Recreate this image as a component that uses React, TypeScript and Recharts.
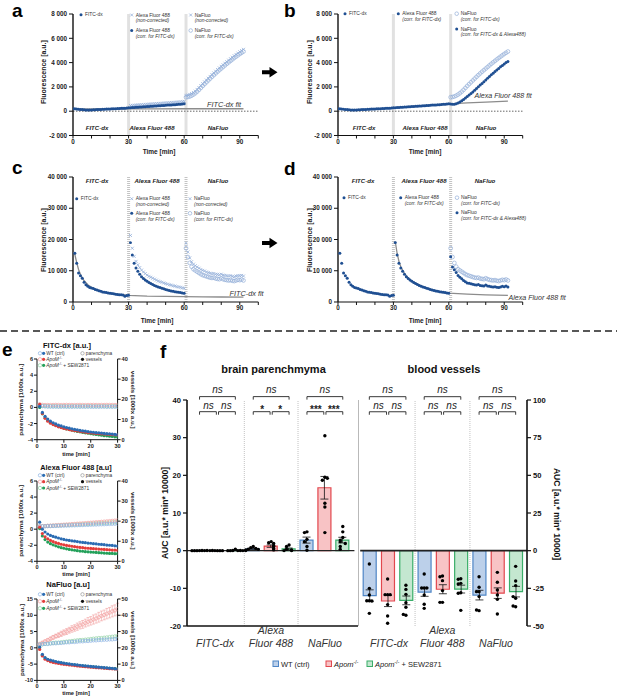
import React from 'react';
import { ComposedChart, Scatter, Bar, Cell, XAxis, YAxis, ReferenceLine, ReferenceDot, ErrorBar } from 'recharts';

const FONT = '"Liberation Sans", Arial, Helvetica, sans-serif';

// ================= DATA: panels a & b (fluorescence, a.u.) =================
const abFitcStart = 0; // t = 0..30
const abFitc = [210, 200, 185, 170, 150, 130, 115, 105, 100, 100, 105, 115, 125, 135, 145, 150, 160, 165, 175, 180, 190, 195, 205, 210, 220, 225, 235, 245, 250, 260, 275];
const abAlexaStart = 31; // t = 31..60
const abAlexaCorr = [290, 300, 310, 320, 330, 340, 350, 360, 370, 385, 395, 405, 415, 425, 435, 445, 455, 465, 475, 485, 500, 510, 520, 530, 540, 555, 565, 580, 595, 610];
const aAlexaRaw = [470, 480, 490, 500, 515, 525, 535, 545, 560, 570, 580, 590, 600, 615, 625, 635, 645, 655, 670, 680, 690, 700, 715, 725, 735, 750, 760, 775, 790, 810];
const abNafStart = 61; // t = 61..92
const abNafCorrFitc = [1150, 1170, 1210, 1280, 1370, 1480, 1610, 1760, 1920, 2080, 2230, 2380, 2530, 2680, 2830, 2970, 3110, 3250, 3380, 3510, 3640, 3770, 3900, 4020, 4140, 4260, 4380, 4490, 4600, 4710, 4810, 4910];
const aNafRaw = [1300, 1330, 1380, 1450, 1540, 1650, 1790, 1940, 2100, 2260, 2410, 2560, 2710, 2860, 3010, 3150, 3290, 3430, 3560, 3690, 3820, 3950, 4070, 4200, 4320, 4440, 4560, 4670, 4780, 4890, 4990, 5090];
const bNafCorrBoth = [600, 570, 580, 620, 680, 760, 850, 960, 1080, 1200, 1330, 1460, 1590, 1730, 1870, 2010, 2150, 2290, 2430, 2570, 2710, 2850, 2990, 3130, 3260, 3390, 3520, 3650, 3770, 3890, 4000, 4100];
const aFitcFitT = [0, 15, 30, 45, 60, 75, 92];
const aFitcFitV = [175, 180, 190, 195, 200, 200, 200];
const bAlexaFitT = [31, 40, 50, 60, 70, 80, 92];
const bAlexaFitV = [300, 390, 490, 600, 680, 750, 830];

// ================= DATA: panels c & d =================
const cdFitcStart = 1; // t = 1..30
const cdFitc = [15600, 12400, 9300, 8400, 7600, 6300, 5500, 5000, 4600, 4500, 4300, 4000, 3800, 3600, 3400, 3200, 3100, 3000, 2900, 2800, 2700, 2600, 2500, 2400, 2350, 2300, 2200, 1800, 2100, 2150];
const cdAlexaStart = 31;
const cdAlexaCorr = [19000, 15000, 12400, 10900, 9800, 8900, 8100, 7500, 7000, 6600, 6200, 5900, 5600, 5300, 5000, 4800, 4600, 4400, 4200, 4000, 3800, 3700, 3550, 3400, 3300, 3200, 3100, 3000, 2900, 2800];
const cAlexaRaw = [21300, 17200, 14600, 13000, 11900, 11000, 10200, 9600, 9100, 8600, 8200, 7900, 7600, 7300, 7000, 6700, 6500, 6300, 6100, 5900, 5700, 5500, 5400, 5200, 5100, 4900, 4800, 4700, 4500, 4400];
const cdNafStart = 61;
const cdNafCorrFitc = [17200, 14400, 12500, 11300, 10500, 10100, 9700, 9300, 8900, 8600, 8400, 8200, 8000, 7800, 7700, 7800, 7500, 7400, 7300, 7600, 7300, 7100, 7000, 6900, 7000, 6800, 6700, 6900, 7100, 7000, 7200, 6900];
const cNafRaw = [18800, 16000, 14100, 12900, 12100, 11600, 11200, 10800, 10400, 10100, 9900, 9600, 9400, 9200, 9100, 9100, 8900, 8800, 8700, 8900, 8600, 8500, 8400, 8300, 8400, 8200, 8100, 8300, 8400, 8400, 8500, 8300];
const dNafCorrBoth = [14500, 11200, 10300, 9400, 8500, 7900, 7400, 6900, 6500, 6100, 6000, 5800, 5700, 5500, 5400, 5600, 5300, 5200, 5100, 5400, 5100, 5000, 4900, 4800, 4900, 4700, 4600, 4800, 5000, 4900, 5100, 4800];
const cFitcFitT = [0.5, 1, 2, 3, 4, 5, 6, 8, 10, 12, 15, 18, 21, 25, 30, 40, 50, 60, 70, 80, 92];
const cFitcFitV = [16000, 15200, 12600, 10400, 8900, 7700, 6800, 5500, 4700, 4100, 3500, 3050, 2750, 2450, 2150, 1900, 1800, 1700, 1650, 1600, 1550];
const dAlexaFitT = [31, 32, 33, 34, 36, 38, 40, 43, 46, 50, 55, 60, 65, 70, 80, 92];
const dAlexaFitV = [19300, 15600, 13000, 11300, 9100, 7700, 6700, 5700, 4900, 4100, 3350, 2850, 2650, 2500, 2300, 2150];

const abYTicks = [-2000, 0, 2000, 4000, 6000, 8000];
const cdYTicks = [0, 10000, 20000, 30000, 40000];
const timeTicks = [0, 10, 20, 30, 40, 50, 60, 70, 80, 90, 100];
const timeLabels = [0, 30, 60, 90];

// ================= DATA: panel e (t = 1..30 min) =================
const eStart = 1;
const e1ParWT = [0.25, 0.15, 0.12, 0.1, 0.1, 0.09, 0.1, 0.08, 0.09, 0.1, 0.08, 0.09, 0.08, 0.1, 0.09, 0.08, 0.09, 0.08, 0.1, 0.09, 0.08, 0.09, 0.08, 0.09, 0.1, 0.08, 0.09, 0.08, 0.09, 0.08];
const e1ParApom = [0.4, 0.32, 0.3, 0.3, 0.29, 0.3, 0.31, 0.3, 0.29, 0.3, 0.31, 0.3, 0.3, 0.29, 0.3, 0.31, 0.3, 0.29, 0.3, 0.3, 0.31, 0.3, 0.29, 0.3, 0.3, 0.31, 0.3, 0.3, 0.29, 0.3];
const e1ParSew = [0.3, 0.2, 0.18, 0.16, 0.15, 0.16, 0.15, 0.14, 0.15, 0.16, 0.15, 0.14, 0.15, 0.15, 0.14, 0.15, 0.16, 0.15, 0.14, 0.15, 0.15, 0.14, 0.15, 0.16, 0.15, 0.14, 0.15, 0.15, 0.14, 0.15];
const e1VesWT = [16.5, 13.5, 11.6, 10.2, 9.2, 8.4, 7.8, 7.2, 6.8, 6.4, 6.0, 5.7, 5.4, 5.1, 4.9, 4.6, 4.4, 4.2, 4.0, 3.8, 3.7, 3.5, 3.4, 3.3, 3.1, 3.0, 2.9, 2.8, 2.6, 2.5];
const e1VesApom = [17.5, 13.0, 10.6, 9.2, 8.2, 7.5, 6.9, 6.4, 6.0, 5.6, 5.3, 5.0, 4.7, 4.5, 4.3, 4.1, 3.9, 3.7, 3.5, 3.4, 3.2, 3.1, 3.0, 2.9, 2.8, 2.7, 2.6, 2.5, 2.4, 2.3];
const e1VesSew = [16.0, 12.8, 10.9, 9.6, 8.6, 7.8, 7.1, 6.6, 6.1, 5.7, 5.3, 5.0, 4.7, 4.4, 4.1, 3.9, 3.6, 3.4, 3.2, 3.0, 2.8, 2.6, 2.4, 2.2, 2.0, 1.9, 1.7, 1.6, 1.4, 1.3];

const e2ParWT = [0.35, 0.36, 0.36, 0.38, 0.39, 0.4, 0.41, 0.42, 0.43, 0.45, 0.45, 0.46, 0.48, 0.48, 0.5, 0.51, 0.52, 0.54, 0.54, 0.56, 0.57, 0.58, 0.6, 0.61, 0.62, 0.64, 0.65, 0.67, 0.68, 0.7];
const e2ParApom = [0.35, 0.37, 0.39, 0.42, 0.44, 0.46, 0.49, 0.51, 0.53, 0.56, 0.58, 0.6, 0.63, 0.65, 0.68, 0.7, 0.73, 0.75, 0.78, 0.8, 0.83, 0.86, 0.88, 0.91, 0.94, 0.97, 1.0, 1.03, 1.06, 1.1];
const e2ParSew = [0.35, 0.36, 0.38, 0.4, 0.41, 0.43, 0.45, 0.46, 0.48, 0.5, 0.52, 0.53, 0.55, 0.57, 0.59, 0.6, 0.62, 0.64, 0.66, 0.68, 0.7, 0.72, 0.74, 0.76, 0.78, 0.8, 0.82, 0.85, 0.87, 0.9];
const e2VesWT = [19.5, 16.0, 14.6, 13.6, 12.9, 12.4, 12.0, 11.6, 11.2, 10.9, 10.6, 10.4, 10.2, 10.0, 9.8, 9.6, 9.4, 9.3, 9.1, 9.0, 8.8, 8.7, 8.5, 8.4, 8.3, 8.1, 8.0, 7.9, 7.7, 7.6];
const e2VesApom = [17.0, 13.8, 12.2, 11.2, 10.4, 9.8, 9.3, 8.9, 8.5, 8.2, 7.9, 7.7, 7.5, 7.3, 7.1, 6.9, 6.8, 6.6, 6.5, 6.4, 6.3, 6.2, 6.1, 6.0, 5.9, 5.8, 5.7, 5.6, 5.6, 5.5];
const e2VesSew = [16.3, 12.6, 10.8, 9.6, 8.8, 8.2, 7.7, 7.2, 6.8, 6.5, 6.2, 5.9, 5.7, 5.5, 5.3, 5.1, 5.0, 4.8, 4.7, 4.6, 4.5, 4.4, 4.3, 4.2, 4.1, 4.0, 3.9, 3.9, 3.8, 3.8];

const e3ParWT = [1.0, 1.1, 1.2, 1.2, 1.3, 1.4, 1.4, 1.5, 1.5, 1.6, 1.7, 1.7, 1.8, 1.8, 1.9, 2.0, 2.0, 2.1, 2.1, 2.2, 2.3, 2.3, 2.4, 2.4, 2.5, 2.5, 2.6, 2.6, 2.7, 2.7];
const e3ParApom = [1.2, 1.6, 2.0, 2.4, 2.8, 3.2, 3.6, 3.9, 4.3, 4.7, 5.0, 5.4, 5.8, 6.1, 6.5, 6.9, 7.2, 7.6, 8.0, 8.3, 8.7, 9.0, 9.4, 9.8, 10.1, 10.5, 10.8, 11.2, 11.5, 11.9];
const e3ParApomErr = [0.2, 0.3, 0.4, 0.4, 0.5, 0.6, 0.6, 0.7, 0.8, 0.8, 0.9, 0.9, 1.0, 1.0, 1.1, 1.1, 1.2, 1.2, 1.3, 1.3, 1.4, 1.4, 1.5, 1.5, 1.5, 1.6, 1.6, 1.7, 1.7, 1.8];
const e3ParSew = [1.0, 1.1, 1.2, 1.3, 1.4, 1.5, 1.6, 1.6, 1.7, 1.8, 1.9, 2.0, 2.1, 2.2, 2.3, 2.4, 2.4, 2.5, 2.6, 2.7, 2.8, 2.9, 3.0, 3.0, 3.1, 3.2, 3.3, 3.4, 3.5, 3.6];
const e3VesWT = [20.5, 16.0, 14.0, 13.0, 12.5, 12.0, 11.6, 11.2, 10.9, 10.6, 10.3, 10.1, 9.9, 9.7, 9.5, 9.3, 9.1, 8.9, 8.8, 8.6, 8.4, 8.3, 8.1, 8.0, 7.8, 7.7, 7.5, 7.4, 7.2, 7.0];
const e3VesApom = [19.0, 15.0, 13.0, 12.2, 11.5, 11.0, 10.7, 10.4, 10.1, 9.9, 9.7, 9.5, 9.3, 9.1, 8.9, 8.7, 8.6, 8.4, 8.3, 8.1, 8.0, 7.8, 7.7, 7.6, 7.5, 7.3, 7.2, 7.1, 7.0, 6.8];
const e3VesSew = [20.0, 15.5, 13.7, 12.8, 12.2, 11.7, 11.3, 11.0, 10.7, 10.4, 10.1, 9.9, 9.7, 9.5, 9.3, 9.1, 8.9, 8.8, 8.6, 8.5, 8.3, 8.2, 8.0, 7.9, 7.7, 7.6, 7.4, 7.3, 7.2, 7.1];

// ================= DATA: panel f (AUC, a.u.*min*10000) =================
const fCats = ['FITC-dx', 'Alexa Fluor 488', 'NaFluo'];
const fGroups = ['WT (ctrl)', 'Apom', 'Apom + SEW2871'];
// brain parenchyma (left axis); order: FITC WT, Apom, SEW, Alexa WT, Apom, SEW, NaFluo WT, Apom, SEW
const parMean = [0.03, 0.02, 0.06, 0.5, 1.2, 0.45, 2.8, 16.7, 2.8];
const parSem = [0.01, 0.01, 0.05, 0.15, 0.33, 0.25, 0.8, 3.0, 0.75];
const parDots = [
  [0.02, 0.01, 0.03, 0.0, 0.02, 0.01, 0.04],
  [0.01, 0.02, 0.0, 0.03, 0.01, 0.02],
  [0.4, 0.05, 0.02, 0.01, 0.03, 0.0, 0.02],
  [1.1, 0.8, 0.6, 0.4, 0.35, 0.2, 0.05],
  [2.4, 2.1, 1.9, 1.3, 1.1, 0.6, 0.2],
  [1.5, 1.1, 0.35, 0.2, 0.05, 0.02],
  [5.0, 4.8, 3.0, 2.4, 1.1, 0.1],
  [30.5, 19.5, 18.7, 19.2, 12.6, 11.6, 4.8],
  [6.4, 5.0, 3.5, 2.8, 2.4, 1.9, 1.1, 0.35],
];
// blood vessels (right axis)
const vesMean = [-29.9, -33.4, -33.0, -27.5, -25.6, -25.5, -29.5, -28.2, -27.2];
const vesSem = [3.9, 3.7, 2.9, 2.8, 3.0, 2.6, 3.2, 3.5, 3.5];
const vesDots = [
  [-8.8, -25, -29.4, -33.2, -33.2, -33.4, -41.6],
  [-18.8, -29.2, -29.2, -29.2, -35.8, -43.4, -48.2],
  [-23, -25.7, -29, -34.5, -37.6, -42.9, -42.3],
  [-15.5, -24.8, -24.8, -24.8, -29.4, -35.6, -38.3],
  [-16.8, -17.3, -19.9, -26.5, -34.3, -34.3],
  [-18.6, -19, -21.7, -22.1, -27.9, -28.3, -39.6],
  [-17.3, -24.3, -27.2, -27.2, -30.5, -39.8, -39.4],
  [-14.4, -21, -26.1, -29.4, -32.3, -42],
  [-10.4, -20.1, -23.2, -31.6, -30.5, -37.2, -36.7],
];
const parSig = [['ns', 'ns', 'ns'], ['ns', '*', '*'], ['ns', '***', '***']];
const vesSig = [['ns', 'ns', 'ns'], ['ns', 'ns', 'ns'], ['ns', 'ns', 'ns']];
const parTicks = [-20, -10, 0, 10, 20, 30, 40];
const vesTicks = [-50, -25, 0, 25, 50, 75, 100];

// ================= helpers =================
type Pt = { t: number; v: number; e?: number };
const seq = (t0: number, vals: number[], errs?: number[]): Pt[] => vals.map((v, i) => ({ t: t0 + i, v, e: errs ? errs[i] : undefined }));
const pairs = (ts: number[], vs: number[]): Pt[] => ts.map((t, i) => ({ t, v: vs[i] }));

const NAVY = '#1f4f92';
const LIGHT = '#93afd9';
const FITGREY = '#8c8c8c';
const BAR_FILL = ['#bcd0ea', '#f8c3c5', '#c4e7d0'];
const BAR_STROKE = ['#4f86c6', '#e2474e', '#3aae69'];
const E_RING = ['#8db3e2', '#f2a0a0', '#93d3a6'];
const E_DOT = ['#2b6cb3', '#e43d3a', '#23a05a'];

const NBSP = '\u00a0';
const fmtK = (v: number) => {
  const a = Math.abs(v);
  const s = a >= 1000 ? `${Math.floor(a / 1000)}${NBSP}${String(a % 1000).padStart(3, '0')}` : String(a);
  return (v < 0 ? '-' : '') + s;
};

const dotShape = (r: number, fill: string) => (p: any) => <circle cx={p.cx} cy={p.cy} r={r} fill={fill} />;
const ringShape = (r: number, stroke: string) => (p: any) => <circle cx={p.cx} cy={p.cy} r={r} fill="#fff" fillOpacity={0} stroke={stroke} strokeWidth={0.7} />;
const crossShape = (s: number, stroke: string) => (p: any) => (
  <path d={`M${p.cx - s},${p.cy - s}L${p.cx + s},${p.cy + s}M${p.cx - s},${p.cy + s}L${p.cx + s},${p.cy - s}`} stroke={stroke} strokeWidth={0.8} />
);
const noShape = () => <g />;

const SHAPES: Record<string, any> = {
  dot: dotShape(1.5, NAVY),
  ring: ringShape(1.9, LIGHT),
  cross: crossShape(1.5, LIGHT),
  fit: noShape,
};

const tickSmall = { fontSize: 6.3, fontWeight: 700, fill: '#222', fontFamily: FONT };

type Ser = { data: Pt[]; kind: 'dot' | 'ring' | 'cross' | 'fit' };

function TimePanel({ rect, yDomain, yTicks, series }: { rect: number[]; yDomain: [number, number]; yTicks: number[]; series: Ser[] }) {
  const [x0, y0, x1, y1] = rect;
  const yw = 42, mt = 10, mr = 8, xh = 16;
  return (
    <div style={{ position: 'absolute', left: x0 - yw, top: y0 - mt }}>
      <ComposedChart width={yw + x1 - x0 + mr} height={mt + y1 - y0 + xh} margin={{ top: mt, right: mr, bottom: 0, left: 0 }}>
        <XAxis type="number" dataKey="t" domain={[0, 100]} ticks={timeTicks} interval={0} allowDataOverflow
          tickFormatter={(v: number) => (timeLabels.includes(v) ? String(v) : '')}
          height={xh} tickSize={3} tickMargin={1} tick={tickSmall}
          axisLine={{ stroke: '#111', strokeWidth: 1.2 }} tickLine={{ stroke: '#111' }} />
        <YAxis type="number" domain={yDomain} ticks={yTicks} interval={0} allowDataOverflow width={yw}
          tickSize={4} tickMargin={2} tickFormatter={fmtK} tick={tickSmall}
          axisLine={{ stroke: '#111', strokeWidth: 1.4 }} tickLine={{ stroke: '#111' }} />
        <ReferenceLine x={30} stroke="#c4c4c4" strokeWidth={3} strokeDasharray="1 1" />
        <ReferenceLine x={61} stroke="#c4c4c4" strokeWidth={3} strokeDasharray="1 1" />
        {yDomain[0] < 0 && <ReferenceLine y={0} stroke="#666" strokeDasharray="1.5 1.5" />}
        {series.map((s, i) => (
          <Scatter key={i} data={s.data} dataKey="v" isAnimationActive={false} shape={SHAPES[s.kind]}
            line={s.kind === 'fit' ? { stroke: FITGREY, strokeWidth: 1.3 } : false} />
        ))}
      </ComposedChart>
    </div>
  );
}

type ESer = { data: Pt[]; axis: 'p' | 'v'; kind: 'ring' | 'dot'; color: string; err?: boolean };

function EPanel({ rect, pDomain, pTicks, vDomain, vTicks, series }: { rect: number[]; pDomain: [number, number]; pTicks: number[]; vDomain: [number, number]; vTicks: number[]; series: ESer[] }) {
  const [x0, y0, x1, y1] = rect;
  const yl = 30, yr = 24, mt = 8, xh = 12;
  const tk = { fontSize: 5.6, fontWeight: 700, fill: '#222', fontFamily: FONT };
  return (
    <div style={{ position: 'absolute', left: x0 - yl, top: y0 - mt }}>
      <ComposedChart width={yl + x1 - x0 + yr} height={mt + y1 - y0 + xh} margin={{ top: mt, right: 0, bottom: 0, left: 0 }}>
        <XAxis type="number" dataKey="t" domain={[0, 30]} ticks={[0, 10, 20, 30]} interval={0} allowDataOverflow height={xh}
          tickSize={3} tickMargin={1} tick={tk} axisLine={{ stroke: '#111', strokeWidth: 1 }} tickLine={{ stroke: '#111' }} />
        <YAxis yAxisId="p" orientation="left" type="number" domain={pDomain} ticks={pTicks} interval={0} allowDataOverflow width={yl}
          tickSize={3} tickMargin={1} tick={tk} axisLine={{ stroke: '#111', strokeWidth: 1 }} tickLine={{ stroke: '#111' }} />
        <YAxis yAxisId="v" orientation="right" type="number" domain={vDomain} ticks={vTicks} interval={0} allowDataOverflow width={yr}
          tickSize={3} tickMargin={1} tick={tk} axisLine={{ stroke: '#111', strokeWidth: 1 }} tickLine={{ stroke: '#111' }} />
        {series.map((s, i) => (
          <Scatter key={i} yAxisId={s.axis} data={s.data} dataKey="v" isAnimationActive={false}
            shape={s.kind === 'ring' ? ringShape(1.7, s.color) : dotShape(1.6, s.color)}>
            {s.err ? <ErrorBar dataKey="e" direction="y" width={1.5} stroke={s.color} strokeWidth={0.6} /> : null}
          </Scatter>
        ))}
      </ComposedChart>
    </div>
  );
}

function swarm(groups: number[][], span: number, step: number) {
  const out: { x: number; v: number }[] = [];
  groups.forEach((vals, g) => {
    const placed: number[] = [];
    vals.forEach((v) => {
      const n = placed.filter((p) => Math.abs(p - v) < span).length;
      const k = n === 0 ? 0 : n % 2 === 1 ? -(n + 1) / 2 : n / 2;
      placed.push(v);
      out.push({ x: g + 0.5 + k * step, v });
    });
  });
  return out;
}

type Lv = { up: number; low: number; tick: number; upTxt: number; lowTxt: number; starDrop: number };

function BarHalf({ rect, side, xDomain, yDomain, yTicks, means, sems, dots, sig, lv, span, zeroSeg }: {
  rect: number[]; side: 'left' | 'right'; xDomain: [number, number]; yDomain: [number, number]; yTicks: number[];
  means: number[]; sems: number[]; dots: number[][]; sig: string[][]; lv: Lv; span: number; zeroSeg: [number, number];
}) {
  const [x0, y0, x1, y1] = rect;
  const yw = 28, mt = 30, mb = 8;
  const xh = side === 'left' ? 1 : 0;
  const id = side === 'left' ? 'l' : 'r';
  const barData = means.map((m, i) => ({ x: i + 0.5, m, e: sems[i] }));
  const dotData = swarm(dots, span, 0.14);
  const brk: any[] = [];
  const labels: any[] = [];
  [0, 1, 2].forEach((g) => {
    const c0 = 3 * g + 0.5, c1 = 3 * g + 1.5, c2 = 3 * g + 2.5;
    const spans: [number, number, number][] = [[c0, c2, lv.up], [c0, c1 - 0.06, lv.low], [c1 + 0.06, c2, lv.low]];
    spans.forEach(([a, b, y], j) => {
      brk.push(<ReferenceLine key={`h${g}${j}`} yAxisId={id} ifOverflow="visible" stroke="#222" strokeWidth={0.9} segment={[{ x: a, y }, { x: b, y }]} />);
      brk.push(<ReferenceLine key={`a${g}${j}`} yAxisId={id} ifOverflow="visible" stroke="#222" strokeWidth={0.9} segment={[{ x: a, y }, { x: a, y: y - lv.tick }]} />);
      brk.push(<ReferenceLine key={`b${g}${j}`} yAxisId={id} ifOverflow="visible" stroke="#222" strokeWidth={0.9} segment={[{ x: b, y }, { x: b, y: y - lv.tick }]} />);
    });
    const pos: [number, number][] = [[c1, lv.upTxt], [(c0 + c1) / 2, lv.lowTxt], [(c1 + c2) / 2, lv.lowTxt]];
    pos.forEach(([x, y], j) => {
      const s = sig[g][j];
      const star = s.includes('*');
      labels.push(
        <ReferenceDot key={`t${g}${j}`} yAxisId={id} x={x} y={star ? y - lv.starDrop : y} r={0} fill="none" stroke="none" ifOverflow="visible"
          label={{ value: s, position: 'center', fontSize: 10, fontStyle: star ? 'normal' : 'italic', fontWeight: star ? 700 : 400, fill: '#222', fontFamily: FONT }} />
      );
    });
  });
  const tk = { fontSize: 7.6, fontWeight: 700, fill: '#111', fontFamily: FONT };
  return (
    <div style={{ position: 'absolute', left: side === 'left' ? x0 - yw : x0, top: y0 - mt }}>
      <ComposedChart width={x1 - x0 + yw} height={mt + y1 - y0 + xh + mb} data={barData} margin={{ top: mt, right: 0, bottom: mb, left: 0 }}>
        <XAxis type="number" dataKey="x" domain={xDomain} allowDataOverflow hide={side !== 'left'} height={xh}
          tick={false} tickLine={false} axisLine={{ stroke: '#111', strokeWidth: 1.3 }} />
        <XAxis xAxisId="d" type="number" dataKey="x" domain={xDomain} allowDataOverflow hide />
        <YAxis yAxisId={id} orientation={side} type="number" domain={yDomain} ticks={yTicks} interval={0} allowDataOverflow width={yw}
          tickSize={4} tickMargin={2} tick={tk} axisLine={{ stroke: '#111', strokeWidth: 1.6 }} tickLine={{ stroke: '#111', strokeWidth: 1.2 }} />
        <ReferenceLine yAxisId={id} x={3} stroke="#c2c2c2" strokeDasharray="1 1" />
        <ReferenceLine yAxisId={id} x={6} stroke="#c2c2c2" strokeDasharray="1 1" />
        {side === 'right' && <ReferenceLine yAxisId={id} x={xDomain[0]} stroke="#8a8a8a" strokeWidth={1.2} ifOverflow="visible" />}
        <ReferenceLine yAxisId={id} ifOverflow="visible" stroke="#222" strokeWidth={side === 'left' ? 1.1 : 1.6}
          segment={[{ x: zeroSeg[0], y: 0 }, { x: zeroSeg[1], y: 0 }]} />
        <Bar yAxisId={id} dataKey="m" barSize={13} isAnimationActive={false}>
          {barData.map((d, i) => (
            <Cell key={i} fill={BAR_FILL[i % 3]} stroke={BAR_STROKE[i % 3]} strokeWidth={1.2} />
          ))}
          <ErrorBar dataKey="e" direction="y" width={4} stroke="#111" strokeWidth={0.8} />
        </Bar>
        <Scatter xAxisId="d" yAxisId={id} data={dotData} dataKey="v" isAnimationActive={false} shape={dotShape(1.7, '#000')} />
        {brk}
        {labels}
      </ComposedChart>
    </div>
  );
}

// ================= overlay helpers =================
const Tx = ({ x, y, s = 6, b = false, it = false, a = 'start', fill = '#222', rot = 0, children }: any) => (
  <text x={x} y={y} fontSize={s} fontWeight={b ? 700 : 400} fontStyle={it ? 'italic' : 'normal'} textAnchor={a} fill={fill}
    fontFamily={FONT} transform={rot ? `rotate(${rot} ${x} ${y})` : undefined} dominantBaseline={rot ? 'central' : undefined}>
    {children}
  </text>
);

function Marker({ kind, x, y }: { kind: string; x: number; y: number }) {
  if (kind === 'dot') return <circle cx={x} cy={y} r={1.5} fill={NAVY} />;
  if (kind === 'ring') return <circle cx={x} cy={y} r={1.8} fill="none" stroke={LIGHT} strokeWidth={0.7} />;
  return <path d={`M${x - 1.4},${y - 1.4}L${x + 1.4},${y + 1.4}M${x - 1.4},${y + 1.4}L${x + 1.4},${y - 1.4}`} stroke={LIGHT} strokeWidth={0.8} />;
}

function LegItem({ x, y, kind, l1, l2 }: { x: number; y: number; kind: string; l1: string; l2?: string }) {
  return (
    <g>
      <Marker kind={kind} x={x} y={y} />
      <Tx x={x + 4} y={y + 1.7} s={4.9} fill="#333">{l1}</Tx>
      {l2 && <Tx x={x + 4} y={y + 7.4} s={4.9} it fill="#333">{l2}</Tx>}
    </g>
  );
}

function SectionLabels({ y, xs }: { y: number; xs: number[] }) {
  return (
    <g>
      {fCats.map((c, i) => (
        <Tx key={i} x={xs[i]} y={y} s={6.1} b it a="middle" fill="#222">{c}</Tx>
      ))}
    </g>
  );
}

function ApoM({ sew, s }: { sew?: boolean; s: number }) {
  return (
    <>
      <tspan fontStyle="italic">ApoM</tspan>
      <tspan fontSize={s * 0.7} dy={-s * 0.4}>-/-</tspan>
      {sew ? <tspan dy={s * 0.4}> + SEW2871</tspan> : null}
    </>
  );
}

function ELegend({ rows, col2 }: { rows: number[]; col2: number[] }) {
  const s = 4.8;
  return (
    <g>
      {rows.map((y, i) => (
        <g key={i}>
          <circle cx={40} cy={y} r={1.7} fill="none" stroke={E_RING[i]} strokeWidth={0.7} />
          <circle cx={43.6} cy={y} r={1.6} fill={E_DOT[i]} />
          <text x={46.3} y={y + 1.7} fontSize={s} fill="#333" fontFamily={FONT}>
            {i === 0 ? fGroups[0] : <ApoM sew={i === 2} s={s} />}
          </text>
        </g>
      ))}
      <circle cx={82.5} cy={col2[0]} r={1.7} fill="none" stroke="#999" strokeWidth={0.7} />
      <Tx x={85.8} y={col2[0] + 1.7} s={s} fill="#333">parenchyma</Tx>
      <circle cx={82.5} cy={col2[1]} r={1.6} fill="#111" />
      <Tx x={85.8} y={col2[1] + 1.7} s={s} fill="#333">vessels</Tx>
    </g>
  );
}

function EAxisTitles({ cy, tBase }: { cy: number; tBase: number }) {
  return (
    <g>
      <Tx x={21} y={cy} s={6.2} b a="middle" rot={-90}>parenchyma [1000x a.u.]</Tx>
      <Tx x={133.5} y={cy} s={6.2} b a="middle" rot={90}>vessels [1000x a.u.]</Tx>
      <Tx x={76} y={tBase} s={5.8} b a="middle">time [min]</Tx>
    </g>
  );
}

// ================= App =================
export default function App() {
  const aSeries: Ser[] = [
    { data: pairs(aFitcFitT, aFitcFitV), kind: 'fit' },
    { data: seq(abFitcStart, abFitc), kind: 'dot' },
    { data: seq(abAlexaStart, aAlexaRaw), kind: 'cross' },
    { data: seq(abAlexaStart, abAlexaCorr), kind: 'dot' },
    { data: seq(abNafStart, aNafRaw), kind: 'cross' },
    { data: seq(abNafStart, abNafCorrFitc), kind: 'ring' },
  ];
  const bSeries: Ser[] = [
    { data: pairs(bAlexaFitT, bAlexaFitV), kind: 'fit' },
    { data: seq(abFitcStart, abFitc), kind: 'dot' },
    { data: seq(abAlexaStart, abAlexaCorr), kind: 'dot' },
    { data: seq(abNafStart, abNafCorrFitc), kind: 'ring' },
    { data: seq(abNafStart, bNafCorrBoth), kind: 'dot' },
  ];
  const cSeries: Ser[] = [
    { data: pairs(cFitcFitT, cFitcFitV), kind: 'fit' },
    { data: seq(cdFitcStart, cdFitc), kind: 'dot' },
    { data: seq(cdAlexaStart, cAlexaRaw), kind: 'cross' },
    { data: seq(cdAlexaStart, cdAlexaCorr), kind: 'dot' },
    { data: seq(cdNafStart, cNafRaw), kind: 'cross' },
    { data: seq(cdNafStart, cdNafCorrFitc), kind: 'ring' },
  ];
  const dSeries: Ser[] = [
    { data: pairs(dAlexaFitT, dAlexaFitV), kind: 'fit' },
    { data: seq(cdFitcStart, cdFitc), kind: 'dot' },
    { data: seq(cdAlexaStart, cdAlexaCorr), kind: 'dot' },
    { data: seq(cdNafStart, cdNafCorrFitc), kind: 'ring' },
    { data: seq(cdNafStart, dNafCorrBoth), kind: 'dot' },
  ];
  const eSet = (par: number[][], ves: number[][], errIdx?: number, errs?: number[]): ESer[] => [
    ...[2, 1, 0].map((g) => ({ data: seq(eStart, par[g], g === errIdx ? errs : undefined), axis: 'p' as const, kind: 'ring' as const, color: E_RING[g], err: g === errIdx })),
    ...[2, 1, 0].map((g) => ({ data: seq(eStart, ves[g]), axis: 'v' as const, kind: 'dot' as const, color: E_DOT[g] })),
  ];

  const parLv: Lv = { up: 40.9, low: 36.9, tick: 0.8, upTxt: 42.8, lowTxt: 38.6, starDrop: 1.0 };
  const vesLv: Lv = { up: 102.2, low: 92.2, tick: 2.0, upTxt: 106.8, lowTxt: 96.4, starDrop: 2.5 };

  return (
    <div style={{ position: 'absolute', left: 0, top: 0, width: 617, height: 696, background: '#fff', overflow: 'hidden', fontFamily: FONT }}>
      <TimePanel rect={[72.7, 14, 258, 135.5]} yDomain={[-2000, 8000]} yTicks={abYTicks} series={aSeries} />
      <TimePanel rect={[338.3, 13.5, 523, 135]} yDomain={[-2000, 8000]} yTicks={abYTicks} series={bSeries} />
      <TimePanel rect={[72.7, 177, 258, 302]} yDomain={[0, 40000]} yTicks={cdYTicks} series={cSeries} />
      <TimePanel rect={[338.3, 177, 523, 302]} yDomain={[0, 40000]} yTicks={cdYTicks} series={dSeries} />

      <EPanel rect={[36.7, 359.3, 117.3, 440]} pDomain={[-4, 6]} pTicks={[-4, -2, 0, 2, 4, 6]} vDomain={[0, 40]} vTicks={[0, 10, 20, 30, 40]}
        series={eSet([e1ParWT, e1ParApom, e1ParSew], [e1VesWT, e1VesApom, e1VesSew])} />
      <EPanel rect={[36.7, 480.7, 117.3, 561]} pDomain={[-4, 6]} pTicks={[-4, -2, 0, 2, 4, 6]} vDomain={[0, 40]} vTicks={[0, 10, 20, 30, 40]}
        series={eSet([e2ParWT, e2ParApom, e2ParSew], [e2VesWT, e2VesApom, e2VesSew])} />
      <EPanel rect={[36.7, 599.3, 117.3, 680.7]} pDomain={[-10, 15]} pTicks={[-10, -5, 0, 5, 10, 15]} vDomain={[0, 50]} vTicks={[0, 10, 20, 30, 40, 50]}
        series={eSet([e3ParWT, e3ParApom, e3ParSew], [e3VesWT, e3VesApom, e3VesSew], 1, e3ParApomErr)} />

      <BarHalf rect={[186.7, 400, 357.7, 626]} side="left" xDomain={[-0.2, 9.35]} yDomain={[-20, 40]} yTicks={parTicks}
        means={parMean} sems={parSem} dots={parDots} sig={parSig} lv={parLv} span={1.0} zeroSeg={[-0.2, 9.15]} />
      <BarHalf rect={[357.7, 400, 526.7, 626]} side="right" xDomain={[-0.12, 9.12]} yDomain={[-50, 100]} yTicks={vesTicks}
        means={vesMean} sems={vesSem} dots={vesDots} sig={vesSig} lv={vesLv} span={2.5} zeroSeg={[0.0, 9.12]} />

      <svg width={617} height={696} style={{ position: 'absolute', left: 0, top: 0, pointerEvents: 'none' }}>
        {/* panel letters */}
        <Tx x={12} y={17} s={19} b fill="#000">a</Tx>
        <Tx x={284} y={17} s={19} b fill="#000">b</Tx>
        <Tx x={12} y={174} s={19} b fill="#000">c</Tx>
        <Tx x={284} y={175} s={19} b fill="#000">d</Tx>
        <Tx x={2} y={356} s={19} b fill="#000">e</Tx>
        <Tx x={160} y={358} s={19} b fill="#000">f</Tx>

        {/* arrows */}
        <path d="M262,70.3L269.5,70.3L269.5,67L277.5,72.3L269.5,77.6L269.5,74.3L262,74.3Z" fill="#000" />
        <path d="M262,241L269.5,241L269.5,237.7L277.5,243L269.5,248.3L269.5,245L262,245Z" fill="#000" />

        {/* separator */}
        <line x1={0} y1={331} x2={617} y2={331} stroke="#222" strokeWidth={1.4} strokeDasharray="7 4" />

        {/* panel a */}
        <Tx x={43} y={72} s={7} b a="middle" rot={-90}>Fluorescence [a.u.]</Tx>
        <Tx x={159} y={154} s={6.5} b a="middle">Time [min]</Tx>
        <LegItem x={81} y={14.7} kind="dot" l1="FITC-dx" />
        <LegItem x={131.7} y={15} kind="cross" l1="Alexa Fluor 488" l2="(non-corrected)" />
        <LegItem x={131.7} y={30.5} kind="dot" l1="Alexa Fluor 488" l2="(corr. for FITC-dx)" />
        <LegItem x={190.7} y={15} kind="cross" l1="NaFluo" l2="(non-corrected)" />
        <LegItem x={190.7} y={30.5} kind="ring" l1="NaFluo" l2="(corr. for FITC-dx)" />
        <SectionLabels y={130} xs={[97, 152, 218]} />
        <Tx x={207} y={107} s={7.3} it fill="#333">FITC-dx fit</Tx>

        {/* panel b */}
        <Tx x={309.5} y={72} s={7} b a="middle" rot={-90}>Fluorescence [a.u.]</Tx>
        <Tx x={425} y={154} s={6.5} b a="middle">Time [min]</Tx>
        <LegItem x={345} y={13.7} kind="dot" l1="FITC-dx" />
        <LegItem x={398.3} y={13.7} kind="dot" l1="Alexa Fluor 488" l2="(corr. for FITC-dx)" />
        <LegItem x={456.7} y={13.7} kind="ring" l1="NaFluo" l2="(corr. for FITC-dx)" />
        <LegItem x={456.7} y={29} kind="dot" l1="NaFluo" l2="(corr. for FITC-dx & Alexa488)" />
        <SectionLabels y={130} xs={[364, 425, 486]} />
        <Tx x={474.5} y={98} s={7.1} it fill="#333">Alexa Fluor 488 fit</Tx>

        {/* panel c */}
        <Tx x={43} y={240} s={7} b a="middle" rot={-90}>Fluorescence [a.u.]</Tx>
        <Tx x={157} y={322.5} s={6.5} b a="middle">Time [min]</Tx>
        <LegItem x={76.7} y={198.7} kind="dot" l1="FITC-dx" />
        <LegItem x={131.7} y={198.7} kind="cross" l1="Alexa Fluor 488" l2="(non-corrected)" />
        <LegItem x={131.7} y={213.3} kind="dot" l1="Alexa Fluor 488" l2="(corr. for FITC-dx)" />
        <LegItem x={190} y={198.7} kind="cross" l1="NaFluo" l2="(non-corrected)" />
        <LegItem x={190} y={213.3} kind="ring" l1="NaFluo" l2="(corr. for FITC-dx)" />
        <SectionLabels y={183} xs={[97, 157, 218]} />
        <Tx x={229.5} y={296} s={7.3} it fill="#333">FITC-dx fit</Tx>

        {/* panel d */}
        <Tx x={309.5} y={240} s={7} b a="middle" rot={-90}>Fluorescence [a.u.]</Tx>
        <Tx x={425} y={322.5} s={6.5} b a="middle">Time [min]</Tx>
        <LegItem x={344} y={197.7} kind="dot" l1="FITC-dx" />
        <LegItem x={400.7} y={197.7} kind="dot" l1="Alexa Fluor 488" l2="(corr. for FITC-dx)" />
        <LegItem x={457} y={197.7} kind="ring" l1="NaFluo" l2="(corr. for FITC-dx)" />
        <LegItem x={457} y={212.7} kind="dot" l1="NaFluo" l2="(corr. for FITC-dx & Alexa488)" />
        <SectionLabels y={183} xs={[363, 424, 485]} />
        <Tx x={508.5} y={300} s={7.1} it fill="#333">Alexa Fluor 488 fit</Tx>

        {/* panel e */}
        <Tx x={67} y={347.5} s={7.5} b a="middle" fill="#111">FITC-dx [a.u.]</Tx>
        <ELegend rows={[353.3, 359.3, 365.3]} col2={[353.3, 359.3]} />
        <EAxisTitles cy={399.7} tBase={456} />
        <Tx x={76} y={469.5} s={7.3} b a="middle" fill="#111">Alexa Fluor 488 [a.u]</Tx>
        <ELegend rows={[475.3, 481.7, 488]} col2={[475.3, 481.7]} />
        <EAxisTitles cy={520.8} tBase={576} />
        <Tx x={68} y={587} s={7.5} b a="middle" fill="#111">NaFluo [a.u]</Tx>
        <ELegend rows={[594.3, 601.3, 608.3]} col2={[594.3, 601.3]} />
        <EAxisTitles cy={640} tBase={695} />

        {/* panel f */}
        <Tx x={273.5} y={373} s={11} b a="middle" fill="#111">brain parenchmyma</Tx>
        <Tx x={444} y={373} s={11} b a="middle" fill="#111">blood vessels</Tx>
        <Tx x={165} y={513} s={8.6} b a="middle" rot={-90} fill="#111">AUC [a.u.* min* 10000]</Tx>
        <Tx x={557} y={514} s={8.6} b a="middle" rot={90} fill="#111">AUC [a.u.* min* 10000]</Tx>
        <Tx x={215} y={646.5} s={10.5} it a="middle" fill="#333">{fCats[0]}</Tx>
        <Tx x={271} y={634} s={10.5} it a="middle" fill="#333">Alexa</Tx>
        <Tx x={271} y={646.5} s={10.5} it a="middle" fill="#333">Fluor 488</Tx>
        <Tx x={325} y={646.5} s={10.5} it a="middle" fill="#333">{fCats[2]}</Tx>
        <Tx x={389} y={646.5} s={10.5} it a="middle" fill="#333">{fCats[0]}</Tx>
        <Tx x={442.3} y={634} s={10.5} it a="middle" fill="#333">Alexa</Tx>
        <Tx x={442.3} y={646.5} s={10.5} it a="middle" fill="#333">Fluor 488</Tx>
        <Tx x={496} y={646.5} s={10.5} it a="middle" fill="#333">{fCats[2]}</Tx>

        {/* f legend */}
        <rect x={273} y={661} width={5.5} height={5.5} fill={BAR_FILL[0]} stroke={BAR_STROKE[0]} strokeWidth={1} />
        <Tx x={281} y={667} s={7.5} fill="#222">{fGroups[0]}</Tx>
        <rect x={326} y={661} width={5.5} height={5.5} fill={BAR_FILL[1]} stroke={BAR_STROKE[1]} strokeWidth={1} />
        <text x={334} y={667} fontSize={7.5} fill="#222" fontFamily={FONT}>
          <tspan fontStyle="italic">Apom</tspan><tspan fontSize={5} dy={-3}>-/-</tspan>
        </text>
        <rect x={367} y={661} width={5.5} height={5.5} fill={BAR_FILL[2]} stroke={BAR_STROKE[2]} strokeWidth={1} />
        <text x={375} y={667} fontSize={7.5} fill="#222" fontFamily={FONT}>
          <tspan fontStyle="italic">Apom</tspan><tspan fontSize={5} dy={-3}>-/-</tspan><tspan dy={3}> + SEW2871</tspan>
        </text>
      </svg>
    </div>
  );
}
